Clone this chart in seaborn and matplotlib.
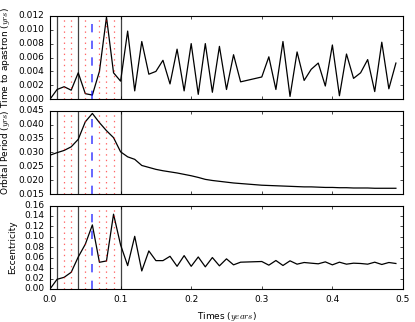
import matplotlib
matplotlib.use("Agg")
import matplotlib.pyplot as plt
import seaborn as sns

# sample times (years)
times = [0.00, 0.01, 0.02, 0.03, 0.04, 0.05, 0.06, 0.07, 0.08, 0.09,
         0.10, 0.11, 0.12, 0.13, 0.14, 0.15, 0.16, 0.17, 0.18, 0.19,
         0.20, 0.21, 0.22, 0.23, 0.24, 0.25, 0.26, 0.27,
         0.30, 0.31, 0.32, 0.33, 0.34, 0.35, 0.36, 0.37, 0.38, 0.39,
         0.40, 0.41, 0.42, 0.43, 0.44, 0.45, 0.46, 0.47, 0.48, 0.49]

apastron = [0.0000, 0.0014, 0.0018, 0.0013, 0.0038, 0.0008, 0.0006, 0.0040, 0.0118, 0.0038,
            0.0026, 0.0098, 0.0012, 0.0083, 0.0036, 0.0040, 0.0056, 0.0022, 0.0072, 0.0012,
            0.0080, 0.0007, 0.0080, 0.0010, 0.0076, 0.0014, 0.0064, 0.0025,
            0.0032, 0.0061, 0.0014, 0.0083, 0.0004, 0.0068, 0.0027, 0.0043, 0.0052, 0.0019,
            0.0078, 0.0005, 0.0065, 0.0030, 0.0038, 0.0057, 0.0011, 0.0082, 0.0015, 0.0052]

period = [0.0290, 0.0299, 0.0307, 0.0320, 0.0347, 0.0410, 0.0440, 0.0407, 0.0378, 0.0353,
          0.0302, 0.0284, 0.0275, 0.0253, 0.0246, 0.0239, 0.0234, 0.0230, 0.0226, 0.0221,
          0.0216, 0.0210, 0.0203, 0.0199, 0.0196, 0.0193, 0.0190, 0.0188,
          0.0182, 0.0181, 0.0180, 0.0179, 0.0178, 0.0177, 0.0176, 0.0176, 0.0175, 0.0174,
          0.0174, 0.0173, 0.0173, 0.0172, 0.0172, 0.0172, 0.0171, 0.0171, 0.0171, 0.0171]

eccentricity = [0.0000, 0.0186, 0.0224, 0.0320, 0.0614, 0.0858, 0.1229, 0.0512, 0.0538, 0.1434,
                0.0845, 0.0448, 0.1010, 0.0346, 0.0730, 0.0544, 0.0544, 0.0627, 0.0435, 0.0640,
                0.0435, 0.0614, 0.0425, 0.0603, 0.0444, 0.0578, 0.0463, 0.0514,
                0.0527, 0.0457, 0.0546, 0.0451, 0.0540, 0.0476, 0.0508, 0.0495, 0.0483, 0.0520,
                0.0463, 0.0514, 0.0476, 0.0495, 0.0489, 0.0476, 0.0514, 0.0470, 0.0508, 0.0489]

# event markers
black_lines = [0.01, 0.04, 0.10]
red_lines = [0.02, 0.03, 0.05, 0.07, 0.08, 0.09]
blue_lines = [0.06]

plt.style.use("classic")
plt.rcParams.update({
    "figure.facecolor": "white",
    "savefig.facecolor": "white",
    "font.size": 6.5,
    "axes.labelsize": 6.5,
    "xtick.labelsize": 6.5,
    "ytick.labelsize": 6.5,
    "xtick.major.size": 2,
    "ytick.major.size": 2,
    "xtick.minor.size": 1,
    "ytick.minor.size": 1,
    "axes.linewidth": 0.8,
    "mathtext.fontset": "cm",
})

fig, axes = plt.subplots(3, 1, sharex=True, figsize=(4.15, 3.22), dpi=100)
fig.subplots_adjust(left=0.1205, right=0.971, top=0.951, bottom=0.1025, hspace=0.137)

series = [apastron, period, eccentricity]
labels = [r"Time to apastron ($yrs$)", r"Orbital Period ($yrs$)", "Eccentricity"]
ylims = [(0.0, 0.012), (0.015, 0.045), (0.0, 0.16)]
ysteps = [0.002, 0.005, 0.02]

for ax, vals, lab, lim, step in zip(axes, series, labels, ylims, ysteps):
    sns.lineplot(x=times, y=vals, ax=ax, color="k", lw=0.9, errorbar=None)
    for t in black_lines:
        ax.axvline(t, color="k", lw=0.9, alpha=0.75)
    for t in red_lines:
        ax.axvline(t, color="r", ls=":", lw=0.9, alpha=0.6)
    for t in blue_lines:
        ax.axvline(t, color="b", ls="--", lw=1.4, alpha=0.6)
    ax.set_ylim(*lim)
    n = int(round((lim[1] - lim[0]) / step))
    ax.set_yticks([lim[0] + i * step for i in range(n + 1)])
    ax.set_ylabel(lab)
    ax.set_xlim(0, 0.5)

axes[0].yaxis.set_major_formatter(matplotlib.ticker.FormatStrFormatter("%.3f"))
axes[1].yaxis.set_major_formatter(matplotlib.ticker.FormatStrFormatter("%.3f"))
axes[2].yaxis.set_major_formatter(matplotlib.ticker.FormatStrFormatter("%.2f"))
axes[2].set_xticks([0.0, 0.1, 0.2, 0.3, 0.4, 0.5])
axes[2].set_xlabel(r"Times ($years$)")

plt.savefig("out.png", dpi=100)
